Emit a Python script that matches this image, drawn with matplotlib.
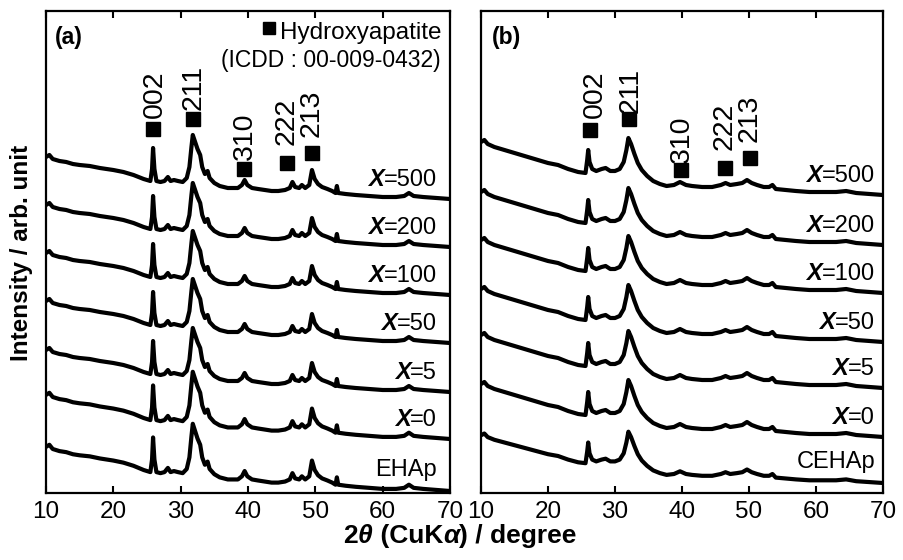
import matplotlib
matplotlib.use("Agg")
import matplotlib.pyplot as plt

plt.rcParams['font.family'] = ['Liberation Sans', 'DejaVu Sans']

theta_a = [10.0, 10.5, 11.0, 12.0, 13.0, 14.0, 15.0, 16.5, 18.0, 20.0, 21.5, 23.0, 24.5, 25.5,
           25.75, 25.9, 26.1, 26.4, 27.0, 27.6, 28.1, 28.5, 29.0, 29.6, 30.3, 30.9, 31.3, 31.6,
           31.8, 32.1, 32.5, 32.9, 33.2, 33.6, 34.0, 34.3, 35.0, 35.8, 37.0, 38.5, 39.1, 39.5,
           39.9, 40.6, 41.5, 42.5, 43.5, 44.5, 45.5, 46.2, 46.6, 47.0, 47.6, 48.0, 48.5, 49.1,
           49.5, 49.9, 50.4, 51.0, 51.8, 52.5, 53.0, 53.2, 53.4, 54.5, 56.0, 58.0, 60.0, 62.0,
           63.2, 63.9, 64.6, 66.0, 68.0, 70.0]
inten_a = [42, 44, 40, 38, 37, 35, 34, 33, 31, 29, 27, 24, 20, 18,
           30, 51, 30, 18, 17, 18, 22, 18, 19, 18, 17, 21, 32, 52,
           64, 58, 50, 44, 32, 25, 28, 21, 16, 13, 11, 11, 14, 19,
           14, 11, 10, 9, 8, 8, 9, 11, 17, 12, 11, 14, 11, 14,
           29, 20, 15, 12, 10, 8, 6, 13, 6, 5, 4, 3, 2, 2,
           3, 6, 3, 2, 1, 0]

theta_b = [10.0, 10.5, 11.0, 12.0, 13.0, 14.0, 15.0, 16.5, 18.0, 20.0, 21.5, 23.0, 24.5, 25.6,
           25.85, 26.0, 26.2, 26.6, 27.2, 28.0, 28.6, 29.3, 30.0, 30.7, 31.3, 31.7, 32.0, 32.4,
           32.9, 33.4, 34.0, 34.8, 35.7, 36.7, 37.7, 38.8, 39.7, 40.6, 41.5, 43.0, 44.5, 45.8,
           46.5, 47.2, 48.2, 49.0, 49.7, 50.4, 51.2, 52.2, 53.0, 53.5, 54.0, 55.5, 57.0, 59.0,
           61.0, 63.0, 64.5, 66.0, 68.0, 70.0]
inten_b = [53, 55, 51, 48, 46, 44, 42, 39, 36, 32, 30, 26, 23, 22,
           35, 45, 33, 26, 24, 26, 27, 24, 24, 26, 33, 45, 57, 51,
           41, 32, 25, 19, 14, 11, 9, 10, 13, 10, 9, 8, 8, 10,
           12, 10, 11, 12, 15, 12, 10, 8, 8, 10, 6, 5, 4, 3,
           3, 3, 4, 2, 1, 0]

samples_a = ["EHAp", "0", "5", "50", "100", "200", "500"]
offsets_a = [2, 54, 101, 150, 198, 246, 294]
scales_a = [1.05, 1.05, 1.0, 1.0, 1.0, 1.0, 1.0]

samples_b = ["CEHAp", "0", "5", "50", "100", "200", "500"]
offsets_b = [10, 56, 105, 151, 200, 248, 298]
scales_b = [0.9, 1.0, 1.0, 1.0, 1.0, 1.0, 1.0]

hkl = ["002", "211", "310", "222", "213"]
peak_a = [25.94, 31.76, 39.36, 45.8, 49.5]
peak_b = [26.3, 32.1, 39.9, 46.4, 50.15]
mark_y_a = [364.5, 374.5, 324, 329.7, 340]
mark_y_b = [362.7, 374.3, 323.3, 325, 335.2]
text_x_a = [26.2, 31.9, 39.55, 45.75, 49.5]
text_x_b = [27.0, 32.35, 39.95, 46.4, 50.15]
text_y_a = [375, 383, 333, 348, 356]
text_y_b = [375, 380, 330, 343, 351]

fig = plt.figure(figsize=(9.04, 5.6), dpi=100)
ax_a = fig.add_axes([46 / 904, 1 - 493 / 560, 404 / 904, 482 / 560])
ax_b = fig.add_axes([481 / 904, 1 - 493 / 560, 402 / 904, 482 / 560])


def draw_panel(ax, theta, inten, samples, offsets, scales, label_x, name, name_x):
    for s, off, k in zip(samples, offsets, scales):
        ax.plot(theta, [off + k * v for v in inten], color='black', lw=3.0,
                solid_joinstyle='round')
        if s.endswith("EHAp"):
            ax.text(label_x, off + 15, s, fontsize=17, ha='right', va='baseline')
        else:
            t = ax.text(label_x, off + 13, "=" + s, fontsize=17, ha='right', va='baseline')
            ax.annotate("X", xy=(0, off + 13), xycoords=(t, 'data'), fontsize=17,
                        fontweight='bold', fontstyle='italic', ha='right', va='baseline')
    ax.set_xlim(10, 70)
    ax.set_ylim(0, 482)
    ax.set_xticks(range(10, 71, 10))
    ax.set_yticks([])
    ax.tick_params(axis='x', direction='in', top=True, bottom=True, length=5, width=1.5,
                   labelsize=17.5, pad=6)
    for sp in ax.spines.values():
        sp.set_linewidth(1.6)
    ax.text(name_x, 0.946, name, transform=ax.transAxes,
            fontsize=16.5, fontweight='bold', ha='left', va='center')


draw_panel(ax_a, theta_a, inten_a, samples_a, offsets_a, scales_a, 68.1, "(a)", 0.022)
draw_panel(ax_b, theta_b, inten_b, samples_b, offsets_b, scales_b, 68.8, "(b)", 0.027)

for ax, px, my, tx, ty in [(ax_a, peak_a, mark_y_a, text_x_a, text_y_a),
                           (ax_b, peak_b, mark_y_b, text_x_b, text_y_b)]:
    ax.plot(px, my, 's', color='black', ms=9.5, ls='none')
    for lab, x, y in zip(hkl, tx, ty):
        ax.text(x, y, lab, rotation=90, fontsize=20.5, ha='center', va='bottom')

# legend box in panel (a)
ax_a.plot([0.552], [0.965], 's', color='black', ms=9, transform=ax_a.transAxes)
ax_a.text(0.5792, 0.942, "Hydroxyapatite", transform=ax_a.transAxes, fontsize=17.5,
          ha='left', va='baseline')
ax_a.text(0.978, 0.884, "(ICDD : 00-009-0432)", transform=ax_a.transAxes, fontsize=16.5,
          ha='right', va='baseline')

# axis titles
fig.text(22 / 904, 1 - 253 / 560, "Intensity / arb. unit", rotation=90, fontsize=17.5,
         fontweight='bold', ha='center', va='center')
pieces = [("2", 'normal'), ("θ", 'italic'), (" (CuK", 'normal'), ("α", 'italic'),
          (") / degree", 'normal')]
base_y = 1 - 543 / 560
first = fig.text(340 / 904, base_y, pieces[0][0], fontsize=19, fontweight='bold',
                 ha='left', va='baseline')
prev = first
for txt, style in pieces[1:]:
    prev = ax_a.annotate(txt, xy=(1, base_y), xycoords=(prev, 'figure fraction'),
                         fontsize=19, fontweight='bold', fontstyle=style,
                         ha='left', va='baseline', annotation_clip=False)

# centre the composed x title at x = 460 px
fig.canvas.draw()
r = fig.canvas.get_renderer()
x0 = first.get_window_extent(r).x0
x1 = prev.get_window_extent(r).x1
first.set_x((460 - (x1 - x0) / 2) / 904)

fig.savefig("out.png", dpi=100)
